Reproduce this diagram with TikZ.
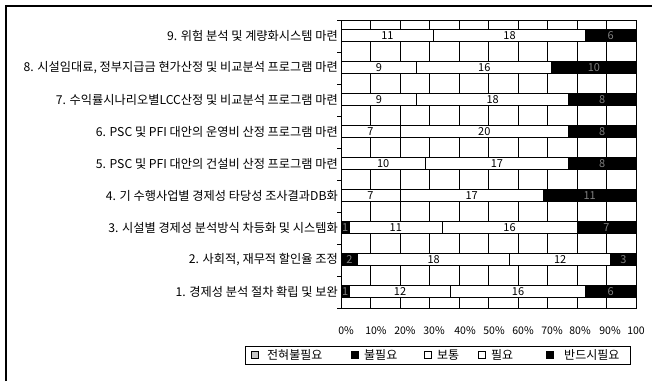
\documentclass[tikz,border=0pt]{standalone}
\usepackage{fontspec}
\setmainfont{Noto Sans CJK KR}

\begin{document}
\begin{tikzpicture}[x=1pt,y=-1pt,
	seg/.style={draw=black,line width=0.8pt,fill=white},
	blk/.style={draw=black,line width=0.8pt,fill=black},
	val/.style={font=\fontsize{11}{12}\selectfont,inner sep=0pt},
	dval/.style={val,text=gray},
	cat/.style={anchor=east,font=\fontsize{12.2}{13}\selectfont,inner sep=0pt},
	pct/.style={font=\fontsize{10.5}{12}\selectfont,inner sep=0pt},
	leg/.style={anchor=west,font=\fontsize{12}{13}\selectfont,inner sep=0pt}]
		\useasboundingbox (0,0) rectangle (652,381);
		
		% Outer frame
		\draw[line width=1.2pt] (6,381) -- (6,6) -- (652,6);
		
		% Plot area with grid
		\draw[line width=0.8pt] (341,20) rectangle (636,308);
		\foreach \g in {1,...,9}
			\draw[line width=0.8pt] (341+29.5*\g,20) -- (341+29.5*\g,308);
		\foreach \t in {0,...,9}
			\draw[line width=0.8pt] (337,20+32*\t) -- (341,20+32*\t);
		
		% Bars (x counted in answers, 35 in all)
		\begin{scope}[x=8.4286pt,xshift=341pt]
		%% 9
		\draw[seg] (0,29.5) rectangle node[val] (n9a) {11} (11,41.5);
		\draw[seg] (11,29.5) rectangle node[val] (n9b) {18} (29,41.5);
		\draw[blk] (29,29.5) rectangle node[dval] (n9c) {6} (35,41.5);
		%% 8
		\draw[seg] (0,61.5) rectangle node[val] (n8a) {9} (9,73.5);
		\draw[seg] (9,61.5) rectangle node[val] (n8b) {16} (25,73.5);
		\draw[blk] (25,61.5) rectangle node[dval] (n8c) {10} (35,73.5);
		%% 7
		\draw[seg] (0,93.5) rectangle node[val] (n7a) {9} (9,105.5);
		\draw[seg] (9,93.5) rectangle node[val] (n7b) {18} (27,105.5);
		\draw[blk] (27,93.5) rectangle node[dval] (n7c) {8} (35,105.5);
		%% 6
		\draw[seg] (0,125.5) rectangle node[val] (n6a) {7} (7,137.5);
		\draw[seg] (7,125.5) rectangle node[val] (n6b) {20} (27,137.5);
		\draw[blk] (27,125.5) rectangle node[dval] (n6c) {8} (35,137.5);
		%% 5
		\draw[seg] (0,157.5) rectangle node[val] (n5a) {10} (10,169.5);
		\draw[seg] (10,157.5) rectangle node[val] (n5b) {17} (27,169.5);
		\draw[blk] (27,157.5) rectangle node[dval] (n5c) {8} (35,169.5);
		%% 4
		\draw[seg] (0,189.5) rectangle node[val] (n4a) {7} (7,201.5);
		\draw[seg] (7,189.5) rectangle node[val] (n4b) {17} (24,201.5);
		\draw[blk] (24,189.5) rectangle node[dval] (n4c) {11} (35,201.5);
		%% 3
		\draw[blk] (0,221.5) rectangle node[dval] (n3o) {1} (1,233.5);
		\draw[seg] (1,221.5) rectangle node[val] (n3a) {11} (12,233.5);
		\draw[seg] (12,221.5) rectangle node[val] (n3b) {16} (28,233.5);
		\draw[blk] (28,221.5) rectangle node[dval] (n3c) {7} (35,233.5);
		%% 2
		\draw[blk] (0,253.5) rectangle node[dval] (n2o) {2} (2,265.5);
		\draw[seg] (2,253.5) rectangle node[val] (n2a) {18} (20,265.5);
		\draw[seg] (20,253.5) rectangle node[val] (n2b) {12} (32,265.5);
		\draw[blk] (32,253.5) rectangle node[dval] (n2c) {3} (35,265.5);
		%% 1
		\draw[blk] (0,285.5) rectangle node[dval] (n1o) {1} (1,297.5);
		\draw[seg] (1,285.5) rectangle node[val] (n1a) {12} (13,297.5);
		\draw[seg] (13,285.5) rectangle node[val] (n1b) {16} (29,297.5);
		\draw[blk] (29,285.5) rectangle node[dval] (n1c) {6} (35,297.5);
		\end{scope}
		
		% Item labels
		\node[cat] (c9) at (338,35.5) {9. 위험 분석 및 계량화시스템 마련};
		\node[cat] (c8) at (338,67.5) {8. 시설임대료, 정부지급금 현가산정 및 비교분석 프로그램 마련};
		\node[cat] (c7) at (338,99.5) {7. 수익률시나리오별LCC산정 및 비교분석 프로그램 마련};
		\node[cat] (c6) at (338,131.5) {6. PSC 및 PFI 대안의 운영비 산정 프로그램 마련};
		\node[cat] (c5) at (338,163.5) {5. PSC 및 PFI 대안의 건설비 산정 프로그램 마련};
		\node[cat] (c4) at (338,195.5) {4. 기 수행사업별 경제성 타당성 조사결과DB화};
		\node[cat] (c3) at (338,227.5) {3. 시설별 경제성 분석방식 차등화 및 시스템화};
		\node[cat] (c2) at (338,259.5) {2. 사회적, 재무적 할인율 조정};
		\node[cat] (c1) at (338,291.5) {1. 경제성 분석 절차 확립 및 보완};
		
		% Percent axis
		\foreach \p/\t in {346/0\%,376/10\%,405/20\%,434/30\%,465/40\%,494/50\%,523/60\%,552/70\%,580/80\%,610/90\%,636/100}
			\node[pct] (p\p) at (\p,331) {\t};
		
		% Legend
		\draw[line width=0.7pt] (245,346) rectangle (630,364);
		\draw[fill=gray!45,line width=0.6pt] (251,351.5) rectangle (258,358.5);
		\node[leg] (l1) at (267,355) {전혀불필요};
		\draw[fill=black] (351,351.5) rectangle (358,358.5);
		\node[leg] (l2) at (364,355) {불필요};
		\draw[fill=white,line width=0.8pt] (424,351.5) rectangle (431,358.5);
		\node[leg] (l3) at (437,355) {보통};
		\draw[fill=white,line width=0.8pt] (478,351.5) rectangle (485,358.5);
		\node[leg] (l4) at (491,355) {필요};
		\draw[fill=black] (546,351.5) rectangle (553,358.5);
		\node[leg] (l5) at (564,355) {반드시필요};
	\end{tikzpicture}
\end{document}
